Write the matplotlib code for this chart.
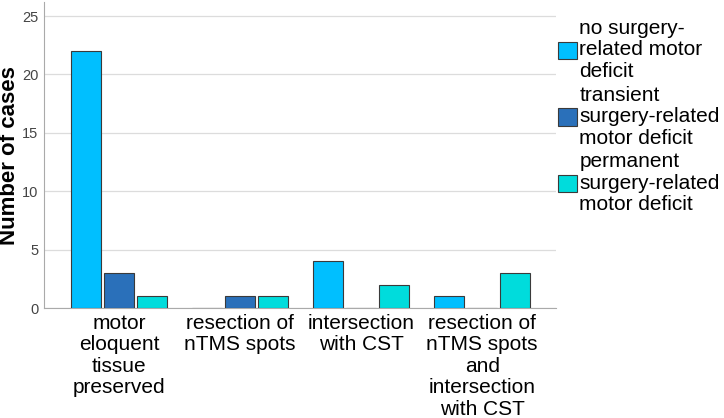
import numpy as np
import matplotlib
matplotlib.use("Agg")
import matplotlib.pyplot as plt

plt.rcParams['font.family'] = ['Liberation Sans', 'DejaVu Sans']

categories = ["motor\neloquent\ntissue\npreserved",
              "resection of\nnTMS spots",
              "intersection\nwith CST",
              "resection of\nnTMS spots\nand\nintersection\nwith CST"]
series_names = ["no surgery-\nrelated motor\ndeficit",
                "transient\nsurgery-related\nmotor deficit",
                "permanent\nsurgery-related\nmotor deficit"]
no_deficit = [22, 0, 4, 1]
transient = [3, 1, 0, 0]
permanent = [1, 1, 2, 3]
colors = ["#00BFFF", "#2A70BA", "#00DCDC"]

fig = plt.figure(figsize=(7.24, 4.18), dpi=100)
ax = fig.add_axes([0.061, 0.263, 0.707, 0.732])

x = np.arange(len(categories))
w = 0.248
step = 0.273
for i, vals in enumerate([no_deficit, transient, permanent]):
    ax.bar(x + (i - 1) * step, vals, width=w, color=colors[i],
           edgecolor="#3a3a3a", linewidth=0.8, label=series_names[i], zorder=3)

ax.set_xlim(-0.62, 3.61)
ax.set_ylim(0, 26.2)
ax.set_yticks([0, 5, 10, 15, 20, 25])
ax.yaxis.grid(True, color="#dcdcdc", linewidth=0.9, zorder=0)
ax.set_xticks(x)
ax.set_xticklabels(categories, fontsize=15, linespacing=1.17)
ax.tick_params(axis="x", length=0, pad=4)
ax.tick_params(axis="y", length=0, labelsize=10.5, labelcolor="#444444", pad=4)
for s in ["top", "right"]:
    ax.spines[s].set_visible(False)
ax.spines["left"].set_color("#aaaaaa")
ax.spines["bottom"].set_color("#aaaaaa")
ax.set_ylabel("Number of cases", fontsize=16, fontweight="bold")
ax.yaxis.set_label_coords(-0.048, 0.5)

leg = ax.legend(loc="upper left", bbox_to_anchor=(1.004, 0.945), frameon=False,
                fontsize=15, handlelength=0.92, handleheight=0.9,
                handletextpad=0.1, labelspacing=0.22, borderaxespad=0,
                borderpad=0)
for t in leg.get_texts():
    t.set_linespacing(1.17)

fig.savefig("out.png", dpi=100)
